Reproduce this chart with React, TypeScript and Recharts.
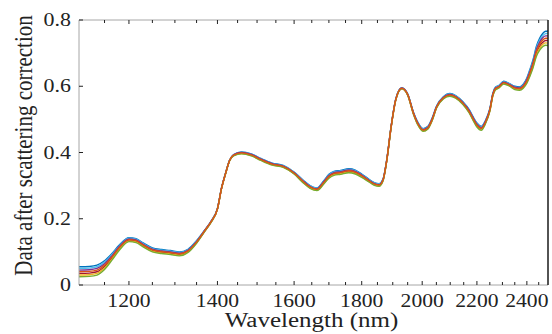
import { Line, LineChart, XAxis, YAxis } from 'recharts'

const wavelengths = [
    1100, 1120, 1135, 1150, 1165, 1180, 1200, 1215, 1230, 1250,
    1270, 1290, 1310, 1330, 1350, 1370, 1385, 1400, 1410, 1420,
    1430, 1440, 1460, 1485, 1510, 1540, 1570, 1600, 1625, 1645,
    1665, 1685, 1700, 1715, 1735, 1760, 1780, 1800, 1820, 1840,
    1855, 1868, 1880, 1895, 1910, 1930, 1950, 1970, 1985, 2003,
    2020, 2035, 2051, 2075, 2099, 2120, 2147, 2170, 2185, 2200,
    2217, 2232, 2250, 2262, 2272, 2285, 2305, 2329, 2350, 2370,
    2385, 2400, 2412, 2426, 2440, 2455, 2468, 2480, 2490,
]

const sample1 = [
    0.055, 0.056, 0.060, 0.073, 0.095, 0.121, 0.143, 0.140, 0.127, 0.112,
    0.107, 0.104, 0.100, 0.108, 0.134, 0.167, 0.194, 0.231, 0.293, 0.338,
    0.377, 0.394, 0.402, 0.396, 0.382, 0.368, 0.361, 0.341, 0.317, 0.300,
    0.293, 0.315, 0.334, 0.343, 0.346, 0.351, 0.347, 0.335, 0.321, 0.309,
    0.306, 0.320, 0.377, 0.482, 0.562, 0.596, 0.577, 0.521, 0.491, 0.472,
    0.479, 0.504, 0.541, 0.568, 0.578, 0.572, 0.553, 0.530, 0.508, 0.489,
    0.479, 0.495, 0.532, 0.579, 0.597, 0.602, 0.615, 0.608, 0.600, 0.598,
    0.606, 0.625, 0.649, 0.680, 0.720, 0.746, 0.760, 0.766, 0.767,
]
const sample2 = [
    0.050, 0.051, 0.055, 0.069, 0.092, 0.118, 0.141, 0.138, 0.125, 0.110,
    0.105, 0.102, 0.098, 0.106, 0.133, 0.166, 0.193, 0.231, 0.293, 0.338,
    0.377, 0.393, 0.401, 0.395, 0.381, 0.367, 0.360, 0.340, 0.316, 0.299,
    0.292, 0.313, 0.332, 0.341, 0.344, 0.349, 0.345, 0.333, 0.320, 0.308,
    0.305, 0.319, 0.376, 0.481, 0.561, 0.595, 0.576, 0.520, 0.490, 0.471,
    0.478, 0.503, 0.540, 0.567, 0.577, 0.571, 0.552, 0.528, 0.506, 0.487,
    0.477, 0.493, 0.531, 0.578, 0.596, 0.601, 0.614, 0.607, 0.598, 0.596,
    0.604, 0.622, 0.646, 0.676, 0.715, 0.740, 0.753, 0.759, 0.760,
]
const sample3 = [
    0.045, 0.046, 0.050, 0.064, 0.088, 0.116, 0.139, 0.136, 0.123, 0.108,
    0.103, 0.100, 0.096, 0.105, 0.131, 0.166, 0.193, 0.230, 0.292, 0.337,
    0.376, 0.393, 0.400, 0.394, 0.380, 0.366, 0.359, 0.339, 0.314, 0.297,
    0.290, 0.312, 0.330, 0.339, 0.342, 0.347, 0.343, 0.332, 0.318, 0.306,
    0.303, 0.318, 0.376, 0.481, 0.561, 0.595, 0.576, 0.519, 0.488, 0.469,
    0.476, 0.501, 0.539, 0.566, 0.575, 0.569, 0.550, 0.527, 0.505, 0.485,
    0.475, 0.492, 0.529, 0.576, 0.594, 0.599, 0.612, 0.605, 0.597, 0.595,
    0.602, 0.620, 0.642, 0.672, 0.710, 0.734, 0.747, 0.752, 0.752,
]
const sample4 = [
    0.040, 0.041, 0.045, 0.060, 0.085, 0.113, 0.137, 0.134, 0.121, 0.106,
    0.101, 0.098, 0.094, 0.103, 0.130, 0.165, 0.192, 0.230, 0.292, 0.337,
    0.376, 0.392, 0.399, 0.393, 0.379, 0.365, 0.358, 0.338, 0.313, 0.296,
    0.289, 0.310, 0.328, 0.337, 0.340, 0.345, 0.341, 0.330, 0.317, 0.305,
    0.302, 0.317, 0.375, 0.480, 0.560, 0.594, 0.575, 0.518, 0.487, 0.468,
    0.475, 0.500, 0.538, 0.565, 0.574, 0.568, 0.549, 0.525, 0.503, 0.483,
    0.473, 0.490, 0.528, 0.575, 0.593, 0.598, 0.611, 0.604, 0.595, 0.593,
    0.600, 0.617, 0.639, 0.668, 0.705, 0.728, 0.740, 0.745, 0.745,
]
const sample5 = [
    0.035, 0.036, 0.040, 0.056, 0.082, 0.110, 0.135, 0.132, 0.119, 0.104,
    0.099, 0.096, 0.092, 0.101, 0.129, 0.164, 0.191, 0.230, 0.292, 0.337,
    0.376, 0.391, 0.398, 0.392, 0.378, 0.364, 0.357, 0.337, 0.312, 0.295,
    0.288, 0.308, 0.326, 0.335, 0.338, 0.343, 0.339, 0.328, 0.316, 0.304,
    0.301, 0.316, 0.374, 0.479, 0.559, 0.593, 0.574, 0.517, 0.486, 0.467,
    0.474, 0.499, 0.537, 0.564, 0.573, 0.567, 0.548, 0.523, 0.501, 0.481,
    0.471, 0.488, 0.527, 0.574, 0.592, 0.597, 0.610, 0.603, 0.593, 0.591,
    0.598, 0.614, 0.636, 0.664, 0.700, 0.722, 0.733, 0.738, 0.738,
]
const sample6 = [
    0.030, 0.031, 0.035, 0.051, 0.078, 0.108, 0.133, 0.130, 0.117, 0.102,
    0.097, 0.094, 0.090, 0.100, 0.127, 0.164, 0.191, 0.229, 0.291, 0.336,
    0.375, 0.391, 0.397, 0.391, 0.377, 0.363, 0.356, 0.336, 0.310, 0.293,
    0.286, 0.307, 0.324, 0.333, 0.336, 0.341, 0.337, 0.327, 0.314, 0.302,
    0.299, 0.315, 0.374, 0.479, 0.559, 0.593, 0.574, 0.516, 0.484, 0.465,
    0.472, 0.497, 0.536, 0.563, 0.571, 0.565, 0.546, 0.522, 0.500, 0.479,
    0.469, 0.487, 0.525, 0.572, 0.590, 0.595, 0.608, 0.601, 0.592, 0.590,
    0.596, 0.612, 0.632, 0.660, 0.695, 0.716, 0.727, 0.731, 0.730,
]
const sample7 = [
    0.025, 0.026, 0.030, 0.047, 0.075, 0.105, 0.131, 0.128, 0.115, 0.100,
    0.095, 0.092, 0.088, 0.098, 0.126, 0.163, 0.190, 0.229, 0.291, 0.336,
    0.375, 0.390, 0.396, 0.390, 0.376, 0.362, 0.355, 0.335, 0.309, 0.292,
    0.285, 0.305, 0.322, 0.331, 0.334, 0.339, 0.335, 0.325, 0.313, 0.301,
    0.298, 0.314, 0.373, 0.478, 0.558, 0.592, 0.573, 0.515, 0.483, 0.464,
    0.471, 0.496, 0.535, 0.562, 0.570, 0.564, 0.545, 0.520, 0.498, 0.477,
    0.467, 0.485, 0.524, 0.571, 0.589, 0.594, 0.607, 0.600, 0.590, 0.588,
    0.594, 0.609, 0.629, 0.656, 0.690, 0.710, 0.720, 0.724, 0.723,
]

const xTicks = [
    1150, 1200, 1250, 1300, 1350, 1400, 1450, 1500, 1550, 1600,
    1650, 1700, 1750, 1800, 1850, 1900, 1950, 2000, 2050, 2100,
    2150, 2200, 2250, 2300, 2350, 2400, 2450,
]
const xLabelTicks = [1200, 1400, 1600, 1800, 2000, 2200, 2400]
const yTicks = [0, 0.2, 0.4, 0.6, 0.8]

// drawn in this order, the last one ends up on top
const series = [
    { key: 's1', color: '#0072BD' },
    { key: 's2', color: '#4DBEEE' },
    { key: 's3', color: '#7E2F8E' },
    { key: 's5', color: '#A2142F' },
    { key: 's6', color: '#EDB120' },
    { key: 's7', color: '#77AC30' },
    { key: 's4', color: '#D95319' },
]

const data = wavelengths.map((w, i) => ({
    w,
    s1: sample1[i],
    s2: sample2[i],
    s3: sample3[i],
    s4: sample4[i],
    s5: sample5[i],
    s6: sample6[i],
    s7: sample7[i],
}))

const font = '"Liberation Serif", "Times New Roman", serif'
const tickColor = '#222'
const axisGray = '#a6a6a6'

function BottomTick({ x, y, payload }: any) {
    const major = xLabelTicks.includes(payload.value)
    return (
        <g>
            <line x1={x} x2={x} y1={y} y2={y - (major ? 4 : 3)} stroke={tickColor} />
            {major && (
                <text transform={`translate(${x},${y + 22}) scale(1.2,1)`} textAnchor="middle" fontFamily={font} fontSize={18} fill={tickColor}>
                    {payload.value}
                </text>
            )}
        </g>
    )
}

function TopTick({ x, y, payload }: any) {
    const major = xLabelTicks.includes(payload.value)
    return <line x1={x} x2={x} y1={y} y2={y + (major ? 4 : 3)} stroke={tickColor} />
}

function LeftTick({ x, y, payload }: any) {
    const v = payload.value
    return (
        <g>
            <line x1={x} x2={x + 4} y1={y} y2={y} stroke={tickColor} />
            <text transform={`translate(${x - 8},${y + 6}) scale(1.22,1)`} textAnchor="end" fontFamily={font} fontSize={18} fill={tickColor}>
                {v === 0 ? '0' : v.toFixed(1)}
            </text>
        </g>
    )
}

function RightTick({ x, y }: any) {
    return <line x1={x} x2={x - 4} y1={y} y2={y} stroke={tickColor} />
}

export default function App() {
    return (
        <div style={{ position: 'absolute', left: 0, top: 0, background: '#fff' }}>
            <LineChart width={552} height={334} data={data} margin={{ top: 0, right: 0, bottom: 0, left: 0 }}>
                <XAxis
                    dataKey="w"
                    type="number"
                    scale="log"
                    domain={[1100, 2490]}
                    allowDataOverflow
                    ticks={xTicks}
                    interval={0}
                    height={49}
                    tickSize={0}
                    tickMargin={0}
                    tickLine={false}
                    tick={<BottomTick />}
                    axisLine={{ stroke: axisGray }}
                    label={{
                        content: ({ viewBox }: any) => (
                            <text
                                transform={`translate(${viewBox.x + viewBox.width / 2 - 2},${viewBox.y + 42}) scale(1.25,1)`}
                                textAnchor="middle"
                                fontFamily={font}
                                fontSize={20}
                                fill={tickColor}
                            >
                                Wavelength (nm)
                            </text>
                        ),
                    }}
                />
                {/* top frame of the box with inward minor/major ticks */}
                <XAxis
                    xAxisId="top"
                    orientation="top"
                    dataKey="w"
                    type="number"
                    scale="log"
                    domain={[1100, 2490]}
                    allowDataOverflow
                    ticks={xTicks}
                    interval={0}
                    height={20}
                    tickSize={0}
                    tickMargin={0}
                    tickLine={false}
                    tick={<TopTick />}
                    axisLine={{ stroke: axisGray }}
                />
                <YAxis
                    domain={[0, 0.8]}
                    ticks={yTicks}
                    interval={0}
                    width={79}
                    tickSize={0}
                    tickMargin={0}
                    tickLine={false}
                    tick={<LeftTick />}
                    axisLine={{ stroke: axisGray }}
                    label={{
                        content: ({ viewBox }: any) => (
                            <text
                                transform={`translate(31.5,${viewBox.y + viewBox.height / 2 - 7}) scale(1.2,1) rotate(-90)`}
                                textAnchor="middle"
                                fontFamily={font}
                                fontSize={21}
                                fill={tickColor}
                            >
                                Data after scattering correction
                            </text>
                        ),
                    }}
                />
                <YAxis
                    yAxisId="right"
                    orientation="right"
                    domain={[0, 0.8]}
                    ticks={yTicks}
                    interval={0}
                    width={4}
                    tickSize={0}
                    tickMargin={0}
                    tickLine={false}
                    tick={<RightTick />}
                    axisLine={{ stroke: '#1a1a1a', strokeWidth: 1.5 }}
                />
                {series.map((s) => (
                    <Line
                        key={s.key}
                        type="monotone"
                        dataKey={s.key}
                        stroke={s.color}
                        strokeWidth={1.4}
                        dot={false}
                        activeDot={false}
                        isAnimationActive={false}
                    />
                ))}
            </LineChart>
        </div>
    )
}
